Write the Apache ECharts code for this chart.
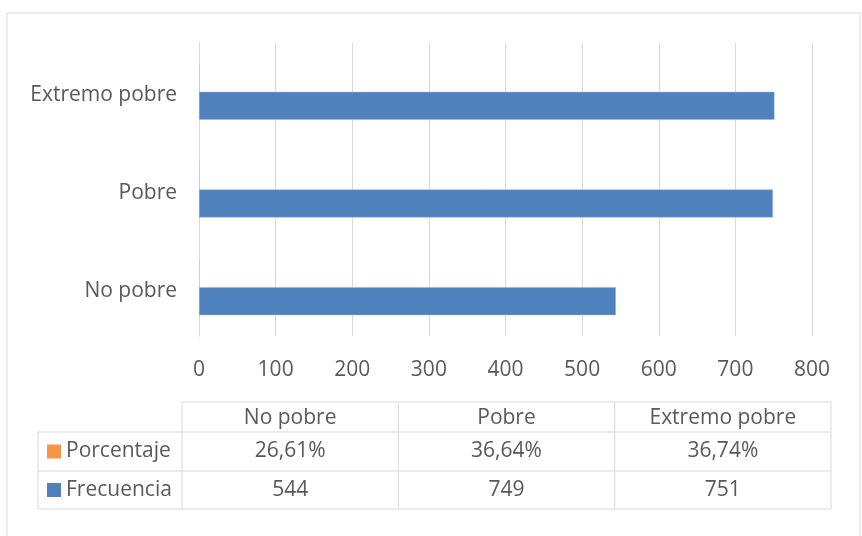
<!DOCTYPE html>
<html><head><meta charset="utf-8">
<script src="https://cdn.jsdelivr.net/npm/echarts@6/dist/echarts.min.js"></script>
<style>html,body{margin:0;padding:0;background:#fff}#c{width:862px;height:536px}</style>
</head><body><div id="c"></div>
<script>
var categories = ['No pobre', 'Pobre', 'Extremo pobre'];
var seriesNames = ['Porcentaje', 'Frecuencia'];
var porcentaje = [0.2661, 0.3664, 0.3674];
var frecuencia = [544, 749, 751];
var porcentajeLabels = ['26,61%', '36,64%', '36,74%'];
var frecuenciaLabels = ['544', '749', '751'];
var xTicks = [0, 100, 200, 300, 400, 500, 600, 700, 800];

var FONT = '"Open Sans"';
var FS = 21;
var GRAY = '#595959';
var LINE = '#D9D9D9';
var colors = ['#F79646', '#4F81BD'];

var chart = echarts.init(document.getElementById('c'), null, {renderer: 'canvas'});

// table geometry
var tLeft = 38, tColStart = 182, tRight = 831;
var hTop = 402, r1Top = 432, r2Top = 471, tBottom = 509;
var colW = (tRight - tColStart) / categories.length;

var g = [];
g.push({type: 'rect', shape: {x: 7, y: 13, width: 853, height: 530}, style: {fill: 'none', stroke: LINE, lineWidth: 1}, silent: true});
function hline(x1, x2, y) { g.push({type: 'line', shape: {x1: x1, y1: y, x2: x2, y2: y}, style: {stroke: LINE, lineWidth: 1}, silent: true}); }
function vline(x, y1, y2) { g.push({type: 'line', shape: {x1: x, y1: y1, x2: x, y2: y2}, style: {stroke: LINE, lineWidth: 1}, silent: true}); }
hline(tColStart, tRight, hTop);
hline(tLeft, tRight, r1Top);
hline(tLeft, tRight, r2Top);
hline(tLeft, tRight, tBottom);
vline(tLeft, r1Top, tBottom);
for (var i = 0; i <= categories.length; i++) vline(tColStart + i * colW, hTop, tBottom);
function txt(x, y, s, align) {
  g.push({type: 'text', x: x, y: y, style: {text: s, fill: GRAY, font: FS + 'px ' + FONT, textAlign: align || 'center', textVerticalAlign: 'middle'}, silent: true});
}
for (var i = 0; i < categories.length; i++) {
  var cx = tColStart + (i + 0.5) * colW;
  txt(cx, (hTop + r1Top) / 2 + 1, categories[i]);
  txt(cx, (r1Top + r2Top) / 2, porcentajeLabels[i]);
  txt(cx, (r2Top + tBottom) / 2, frecuenciaLabels[i]);
}
var rowMids = [(r1Top + r2Top) / 2, (r2Top + tBottom) / 2];
for (var k = 0; k < seriesNames.length; k++) {
  g.push({type: 'rect', shape: {x: 47, y: rowMids[k] - 7, width: 14, height: 14}, style: {fill: colors[k]}, silent: true});
  txt(66, rowMids[k], seriesNames[k], 'left');
}

chart.setOption({
  animation: false,
  textStyle: {fontFamily: FONT},
  grid: {left: 199, right: 50, top: 43, bottom: 200, containLabel: false},
  xAxis: {
    type: 'value', min: 0, max: 800, interval: 100,
    axisLine: {show: false}, axisTick: {show: false},
    splitLine: {show: true, lineStyle: {color: LINE, width: 1}},
    axisLabel: {color: GRAY, fontSize: FS, fontFamily: 'Open Sans', margin: 24,
      formatter: function (v) { return xTicks.indexOf(v) >= 0 ? String(v) : ''; }}
  },
  yAxis: {
    type: 'category', data: categories,
    axisLine: {show: true, lineStyle: {color: LINE, width: 1}},
    axisTick: {show: false},
    axisLabel: {color: GRAY, fontSize: FS, fontFamily: 'Open Sans', margin: 22,
      verticalAlign: 'top', lineHeight: 7, padding: 0}
  },
  series: [
    {name: seriesNames[0], type: 'bar', data: porcentaje, barWidth: 28, barGap: '0%', itemStyle: {color: colors[0]}},
    {name: seriesNames[1], type: 'bar', data: frecuencia, barWidth: 28, barGap: '0%', itemStyle: {color: colors[1], borderColor: '#9DB7D9', borderWidth: 0.5}}
  ],
  graphic: g
});
</script></body></html>
